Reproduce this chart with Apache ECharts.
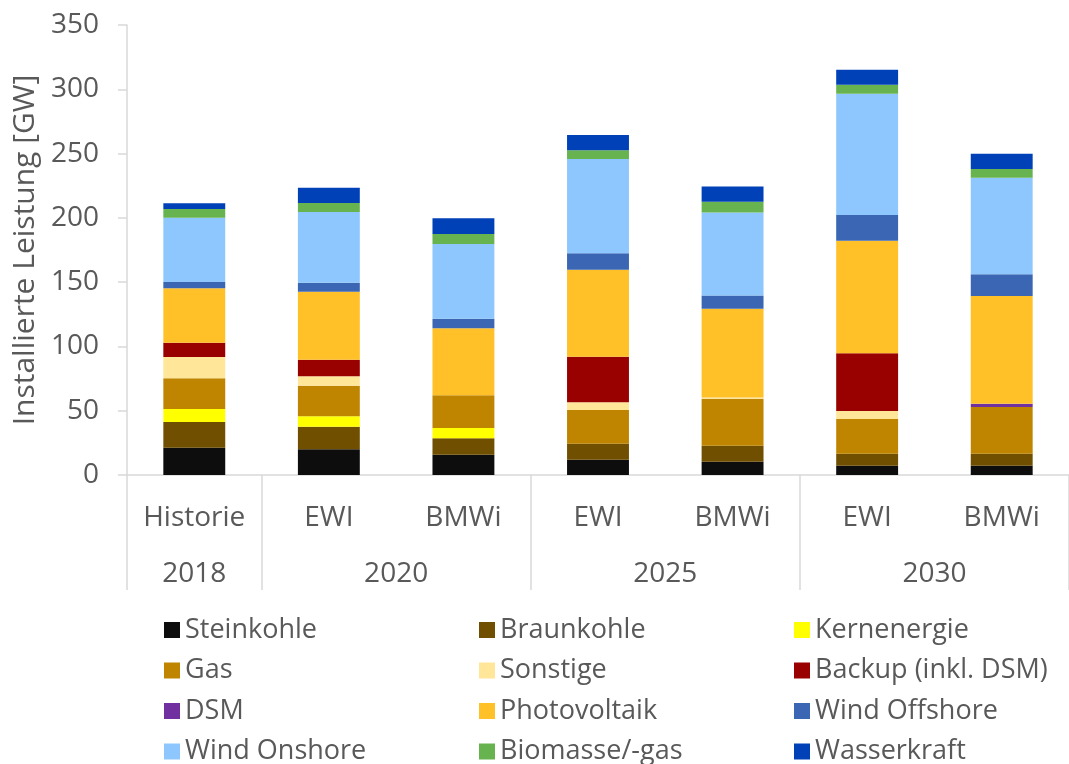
<!DOCTYPE html>
<html>
<head>
<meta charset="utf-8">
<script src="https://cdn.jsdelivr.net/npm/echarts@6/dist/echarts.min.js"></script>
<style>
    html, body { margin: 0; padding: 0; background: #fff; }
    #chart { width: 1069px; height: 764px; }
</style>
</head>
<body>
<div id="chart"></div>
<script>
// Kategorien (untere Ebene) und Jahresgruppen (obere Ebene)
var categories = ['Historie', 'EWI', 'BMWi', 'EWI', 'BMWi', 'EWI', 'BMWi'];
var yearGroups = ['2018', '2020', '2025', '2030'];
var groupSizes = [1, 2, 2, 2];

var seriesNames = [
    'Steinkohle', 'Braunkohle', 'Kernenergie',
    'Gas', 'Sonstige', 'Backup (inkl. DSM)',
    'DSM', 'Photovoltaik', 'Wind Offshore',
    'Wind Onshore', 'Biomasse/-gas', 'Wasserkraft'
];

// Werte in GW
var steinkohle  = [21.2, 20.0, 15.8, 11.9, 10.3, 7.2, 7.2];
var braunkohle  = [20.0, 17.6, 12.8, 12.4, 12.4, 9.3, 9.3];
var kernenergie = [10.1, 8.1, 8.0, 0, 0, 0, 0];
var gas         = [23.9, 23.8, 25.4, 26.2, 36.6, 27.0, 36.3];
var sonstige    = [16.6, 7.3, 0, 6.0, 1.0, 6.2, 0];
var backup      = [11.1, 12.9, 0, 35.5, 0, 44.9, 0];
var dsm         = [0, 0, 0, 0, 0, 0, 2.6];
var photovoltaik = [42.3, 52.9, 52.1, 67.7, 69.0, 87.6, 83.8];
var windOffshore = [4.9, 7.0, 7.5, 12.8, 10.3, 20.0, 16.9];
var windOnshore  = [50.0, 55.0, 58.1, 73.3, 64.6, 94.3, 75.1];
var biomasse     = [6.8, 7.0, 7.8, 6.8, 8.3, 7.0, 6.8];
var wasserkraft  = [4.4, 11.9, 12.2, 11.9, 11.9, 11.7, 11.9];

var seriesValues = [steinkohle, braunkohle, kernenergie, gas, sonstige, backup,
    dsm, photovoltaik, windOffshore, windOnshore, biomasse, wasserkraft];

var colors = ['#0d0d0d', '#704f00', '#ffff00', '#bf8500', '#ffe699', '#990000',
    '#7030a0', '#ffc028', '#3a66b3', '#8ec7fd', '#66b34f', '#0041b8'];

var FONT = '"Open Sans", "Liberation Sans", sans-serif';
var TEXT = '#595959';
var LINE = '#d9d9d9';

// Positionen der Gruppengrenzen und -mitten auf der Kategorieachse
var groupBounds = [0];
var groupCenters = [];
groupSizes.forEach(function (n, i) {
    groupCenters.push(groupBounds[i] + n / 2);
    groupBounds.push(groupBounds[i] + n);
});

var chart = echarts.init(document.getElementById('chart'));

var series = seriesNames.map(function (name, i) {
    return {
        name: name,
        type: 'bar',
        stack: 'total',
        barWidth: '46%',
        data: seriesValues[i],
        itemStyle: { color: colors[i] }
    };
});

// drei Spalten, je eine senkrechte Legende
var legends = [0, 1, 2].map(function (col) {
    return {
        orient: 'vertical',
        left: [159, 474, 789][col],
        top: 610,
        width: 300,
        height: 220,
        icon: 'rect',
        itemWidth: 16,
        itemHeight: 16,
        itemGap: 10.5,
        selectedMode: false,
        textStyle: { fontFamily: FONT, fontSize: 27, color: TEXT, lineHeight: 30 },
        data: seriesNames.filter(function (n, i) { return i % 3 === col; })
    };
});

chart.setOption({
    animation: false,
    color: colors,
    textStyle: { fontFamily: FONT },
    grid: { left: 127, right: -10, top: 25, bottom: 289, containLabel: false },
    legend: legends,
    xAxis: [{
        type: 'category',
        data: categories,
        position: 'bottom',
        axisLine: { show: true, lineStyle: { color: LINE, width: 1.5 } },
        axisTick: { show: false },
        axisLabel: { fontFamily: FONT, fontSize: 28, color: TEXT, margin: 29, interval: 0 }
    }, {
        type: 'value',
        position: 'bottom',
        min: 0,
        max: categories.length,
        axisLine: { show: false },
        splitLine: { show: false },
        axisTick: {
            show: true,
            customValues: groupBounds,
            length: 115,
            lineStyle: { color: LINE, width: 1.5 }
        },
        axisLabel: {
            show: true,
            customValues: groupCenters,
            fontFamily: FONT, fontSize: 28, color: TEXT, margin: 85,
            formatter: function (v) {
                var i = groupCenters.indexOf(v);
                return i >= 0 ? yearGroups[i] : '';
            }
        }
    }],
    yAxis: {
        type: 'value',
        min: 0,
        max: 350,
        interval: 50,
        name: 'Installierte Leistung [GW]',
        nameLocation: 'middle',
        nameGap: 86,
        nameTextStyle: { fontFamily: FONT, fontSize: 30, color: TEXT },
        axisLine: { show: true, lineStyle: { color: LINE, width: 1.5 } },
        axisTick: { show: true, length: 9, lineStyle: { color: LINE, width: 1.5 } },
        splitLine: { show: false },
        axisLabel: { fontFamily: FONT, fontSize: 28, color: TEXT, margin: 28 }
    },
    series: series
});
</script>
</body>
</html>
